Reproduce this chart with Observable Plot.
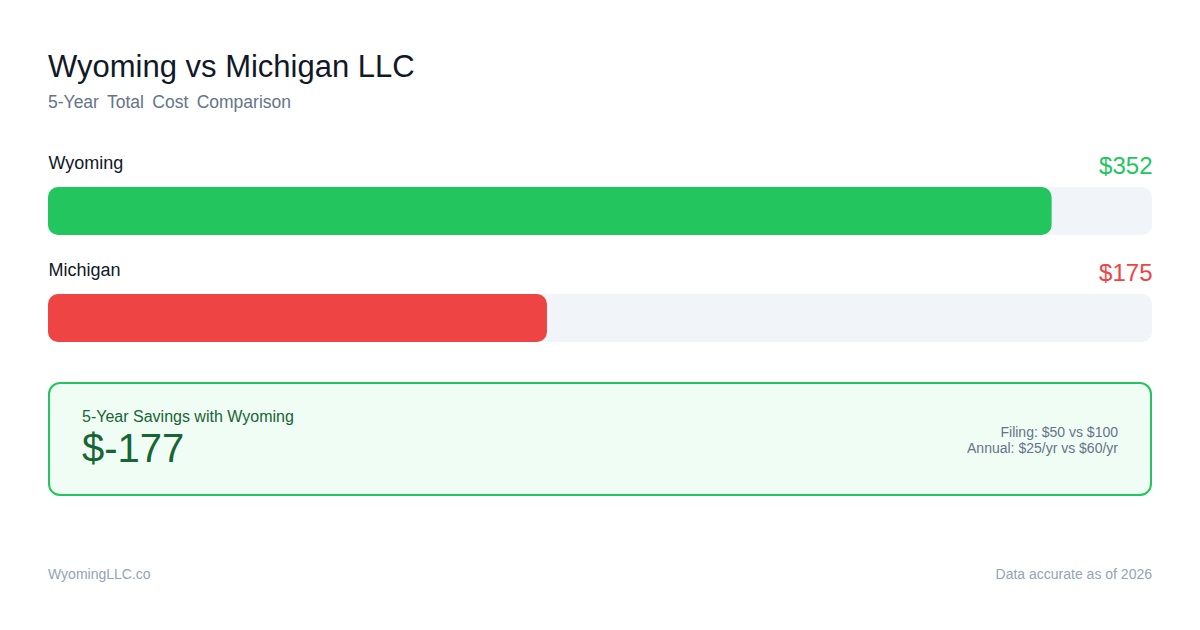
<!DOCTYPE html>
<html>
<head>
<meta charset="utf-8">
<script src="https://cdn.jsdelivr.net/npm/d3@7"></script>
<script src="https://cdn.jsdelivr.net/npm/@observablehq/plot@0.6"></script>
<style>
  html, body { margin: 0; padding: 0; background: #ffffff; }
  #page { position: relative; width: 1200px; height: 630px; overflow: hidden; font-family: "Liberation Sans", Arial, sans-serif; background: #fff; }
  .abs { position: absolute; white-space: nowrap; }
  #title { left: 48px; top: 51px; font-size: 31px; line-height: 31px; color: #111827; }
  #subtitle { left: 48px; top: 93.6px; font-size: 17.5px; line-height: 17px; color: #64748b; word-spacing: 3.5px; }
  #chart { left: 48px; top: 145px; }
  #box { left: 48px; top: 382px; width: 1100px; height: 110px; border: 2px solid #22c55e; border-radius: 12px; background: #f0fdf4; }
  #boxLabel { left: 82px; top: 408.5px; font-size: 16px; line-height: 16px; color: #166534; }
  #boxValue { left: 82px; top: 428px; font-size: 40px; line-height: 40px; color: #166534; }
  #boxNotes { right: 82px; top: 424px; font-size: 14px; line-height: 16px; color: #64748b; text-align: right; }
  #footL { left: 48px; top: 567px; font-size: 14px; line-height: 14px; color: #94a3b8; }
  #footR { right: 48px; top: 567px; font-size: 14px; line-height: 14px; color: #94a3b8; }
</style>
</head>
<body>
<div id="page">
  <div id="title" class="abs">Wyoming vs Michigan LLC</div>
  <div id="subtitle" class="abs">5-Year Total Cost Comparison</div>
  <div id="chart" class="abs"></div>
  <div id="box" class="abs"></div>
  <div id="boxLabel" class="abs">5-Year Savings with Wyoming</div>
  <div id="boxValue" class="abs"></div>
  <div id="boxNotes" class="abs"></div>
  <div id="footL" class="abs">WyomingLLC.co</div>
  <div id="footR" class="abs">Data accurate as of 2026</div>
</div>
<script>
// ---- data ----
const states = ["Wyoming", "Michigan"];
const totals = [352, 175];
const barColors = ["#22c55e", "#ef4444"];
const filingFees = [50, 100];
const annualFees = [25, 60];

const rows = states.map((s, i) => ({state: s, total: totals[i], color: barColors[i]}));
const xMax = d3.max(totals) * 1.1;

const chart = Plot.plot({
  width: 1104,
  height: 200,
  margin: 0,
  style: {fontFamily: "Liberation Sans, Arial, sans-serif", background: "transparent", overflow: "visible"},
  x: {domain: [0, xMax], range: [0, 1104], axis: null},
  y: {type: "band", domain: states, range: [42, 197], paddingInner: 59 / 107, paddingOuter: 0, align: 0, axis: null},
  marks: [
    Plot.barX(rows, {y: "state", x1: 0, x2: () => xMax, fill: "#f1f5f9", rx: 10}),
    Plot.barX(rows, {y: "state", x1: 0, x2: "total", fill: "color", rx: 10}),
    Plot.text(rows, {y: "state", x: () => 0, text: "state", textAnchor: "start", lineAnchor: "bottom", dy: -42.5, fontSize: 18, fill: "#111827"}),
    Plot.text(rows, {y: "state", x: () => xMax, text: d => "$" + d.total, textAnchor: "end", lineAnchor: "bottom", dy: -37.5, fontSize: 24, fill: "color"})
  ]
});
document.getElementById("chart").appendChild(chart);

const savings = totals[1] - totals[0];
document.getElementById("boxValue").textContent = "$" + savings;
document.getElementById("boxNotes").innerHTML =
  `Filing: $${filingFees[0]} vs $${filingFees[1]}<br>Annual: $${annualFees[0]}/yr vs $${annualFees[1]}/yr`;
</script>
</body>
</html>
